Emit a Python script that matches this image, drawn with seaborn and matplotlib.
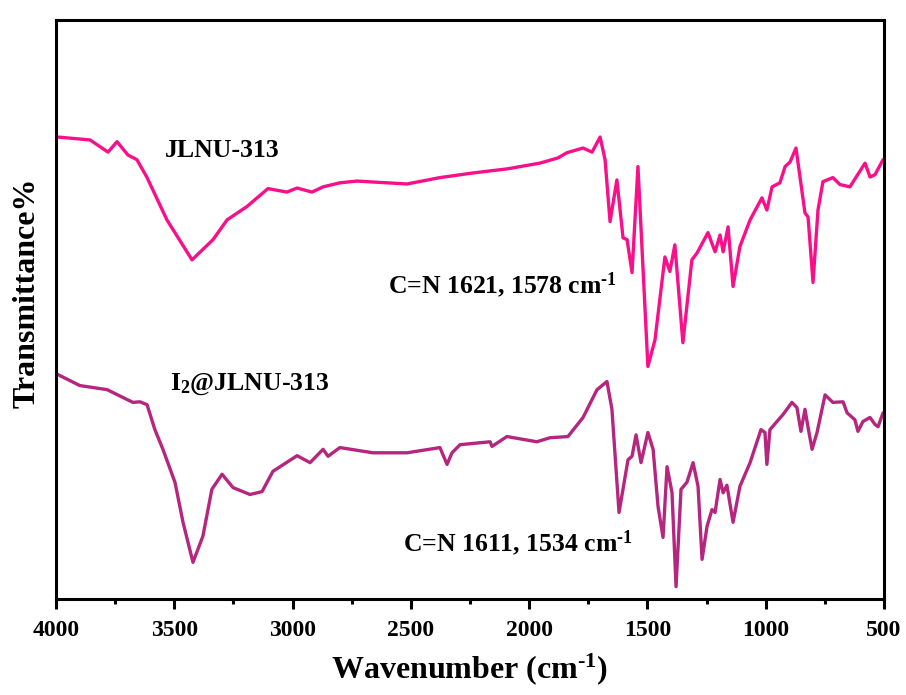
import matplotlib
matplotlib.use("Agg")
import matplotlib.pyplot as plt
import numpy as np
import pandas as pd
import seaborn as sns

# FTIR spectra (wavenumber in cm^-1, transmittance in arbitrary offset units)
jlnu_wn = [3992, 3856, 3780, 3742, 3696, 3658, 3615, 3531, 3425, 3336, 3277, 3193,
           3104, 3024, 2981, 2918, 2871, 2800, 2728, 2516, 2377, 2237, 2094, 1954,
           1878, 1840, 1772, 1734, 1700, 1679, 1658, 1629, 1603, 1586, 1565, 1540,
           1498, 1468, 1426, 1405, 1384, 1350, 1312, 1290, 1244, 1214, 1193, 1180,
           1159, 1138, 1109, 1066, 1016, 995, 973, 940, 918, 897, 872, 834, 821,
           800, 779, 758, 716, 686, 644, 580, 559, 538, 504]
jlnu_t = [79.8, 79.3, 77.2, 79.0, 76.7, 75.9, 72.8, 65.5, 58.6, 62.1, 65.5, 67.8,
          70.9, 70.3, 71.0, 70.3, 71.2, 71.9, 72.2, 71.7, 72.8, 73.6, 74.3, 75.3,
          76.2, 77.1, 77.9, 77.2, 79.8, 75.9, 65.2, 72.4, 62.4, 62.1, 56.4, 74.7,
          40.2, 44.8, 59.1, 56.6, 61.2, 44.3, 58.6, 59.8, 63.3, 60.0, 62.9, 60.0,
          64.3, 54.0, 60.9, 65.5, 69.3, 67.2, 71.2, 71.9, 74.7, 75.5, 77.9, 66.7, 66.0,
          54.7, 67.2, 72.1, 72.8, 71.6, 71.2, 75.3, 72.9, 73.3, 75.9]

i2_wn = [3992, 3899, 3784, 3675, 3645, 3615, 3582, 3548, 3497, 3463, 3421, 3379,
         3341, 3298, 3252, 3180, 3129, 3083, 2981, 2926, 2871, 2850, 2800, 2660,
         2516, 2377, 2347, 2326, 2292, 2165, 2157, 2094, 1967, 1912, 1836, 1772,
         1713, 1671, 1650, 1620, 1582, 1565, 1548, 1527, 1498, 1476, 1455, 1434,
         1417, 1396, 1379, 1358, 1333, 1307, 1286, 1269, 1248, 1227, 1214, 1193,
         1180, 1164, 1138, 1109, 1066, 1020, 1003, 995, 982, 927, 889, 868, 851,
         834, 821, 804, 783, 749, 716, 673, 656, 623, 610, 589, 559, 538, 525, 504]
i2_t = [38.8, 36.9, 36.2, 34.0, 34.1, 33.6, 29.3, 25.9, 20.2, 13.3, 6.4, 10.9,
        19.0, 21.6, 19.3, 18.1, 18.6, 22.1, 24.8, 23.6, 25.9, 24.7, 26.2, 25.3,
        25.3, 26.2, 23.3, 25.3, 26.7, 27.2, 26.4, 28.1, 27.2, 27.9, 28.1, 31.4,
        36.2, 37.6, 32.8, 15.0, 24.1, 24.7, 28.4, 23.6, 28.8, 25.9, 16.0, 10.7,
        22.9, 18.4, 2.2, 19.0, 20.2, 23.6, 19.5, 6.9, 12.6, 15.5, 15.0, 20.7,
        18.4, 19.7, 13.3, 19.5, 23.6, 29.3, 28.8, 23.3, 29.3, 31.9, 34.0, 33.1, 29.0,
        32.8, 29.7, 25.9, 28.8, 35.3, 34.0, 34.1, 32.2, 31.0, 29.0, 30.7, 31.4, 30.2, 29.8, 32.2]

xticks = [4000, 3500, 3000, 2500, 2000, 1500, 1000, 500]
minor_xticks = [3750, 3250, 2750, 2250, 1750, 1250, 750]

sns.set_style("ticks")
plt.rcParams["font.family"] = ["Liberation Serif", "DejaVu Serif"]
plt.rcParams["font.weight"] = "bold"
plt.rcParams["text.color"] = "black"
plt.rcParams["axes.labelcolor"] = "black"
plt.rcParams["xtick.color"] = "black"
plt.rcParams["ytick.color"] = "black"
plt.rcParams["mathtext.fontset"] = "custom"
plt.rcParams["mathtext.rm"] = "Liberation Serif:bold"
plt.rcParams["mathtext.it"] = "Liberation Serif:bold"
plt.rcParams["mathtext.bf"] = "Liberation Serif:bold"
plt.rcParams["mathtext.default"] = "rm"

fig = plt.figure(figsize=(9.06, 6.95), dpi=100)
ax = fig.add_axes([0.0618, 0.1376, 0.9139, 0.8336])

df1 = pd.DataFrame({"wn": jlnu_wn, "t": jlnu_t})
df2 = pd.DataFrame({"wn": i2_wn, "t": i2_t})
sns.lineplot(data=df1, x="wn", y="t", ax=ax, color="#FA0F8A", lw=2.4, sort=False,
             solid_joinstyle="round")
sns.lineplot(data=df2, x="wn", y="t", ax=ax, color="#B5267F", lw=2.4, sort=False,
             solid_joinstyle="round")

ax.set_xlim(4000, 500)
ax.set_ylim(0, 100)
ax.set_xticks(xticks)
ax.set_xticks(minor_xticks, minor=True)
ax.set_yticks([])
ax.tick_params(axis="x", which="major", direction="out", length=7.5, width=2.2,
               labelsize=17, pad=7)
ax.tick_params(axis="x", which="minor", direction="out", length=3.5, width=2.2)
for lbl in ax.get_xticklabels():
    lbl.set_fontweight("bold")
for s in ax.spines.values():
    s.set_linewidth(2.2)
    s.set_color("black")

ax.set_xlabel("Wavenumber (cm$^{\u20101}$)", fontsize=23, fontweight="bold", labelpad=8)
ax.set_ylabel("Transmittance%", fontsize=23, fontweight="bold")
ax.yaxis.set_label_coords(-0.017, 0.53)

ax.text(3540, 77.4, "JLNU-313", fontsize=18.5, fontweight="bold", va="center", ha="left")
ax.text(2597, 54.3, "C=N 1621, 1578 cm$^{\u20101}$", fontsize=18.5, fontweight="bold",
        va="center", ha="left")
ax.text(3518, 37.1, "I$_{2}$@JLNU-313", fontsize=18.5, fontweight="bold", va="center", ha="left")
ax.text(2533, 9.8, "C=N 1611, 1534 cm$^{\u20101}$", fontsize=18.5, fontweight="bold",
        va="center", ha="left")

fig.savefig("out.png", dpi=100)
